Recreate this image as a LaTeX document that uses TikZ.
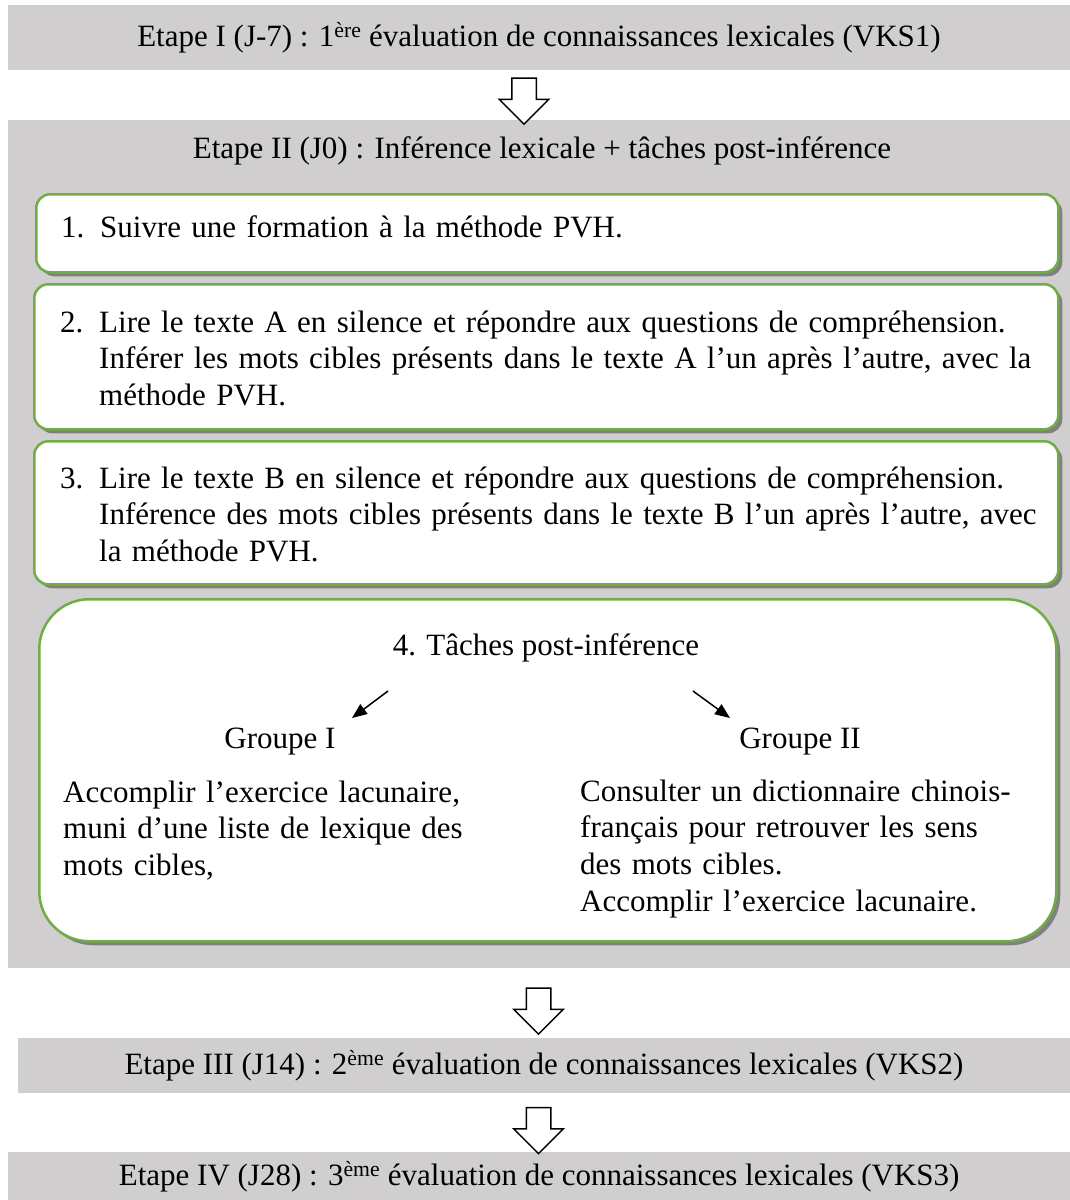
\documentclass[tikz,border=0pt]{standalone}
\usepackage{fontspec}
\setmainfont{Liberation Serif}
\usepackage{xcolor}
\usetikzlibrary{arrows.meta,shapes.arrows,shadows}
\definecolor{etapegris}{RGB}{208,206,206}
\definecolor{vert}{RGB}{112,173,71}
\definecolor{ombre}{RGB}{128,128,128}
\tikzset{
	etape/.style={fill=etapegris, draw=none, inner sep=0pt, minimum width=1062pt},
	tache/.style={draw=vert, line width=2.5pt, fill=white, rounded corners=14pt, anchor=north west,
			drop shadow={shadow xshift=4pt, shadow yshift=-4pt, fill=ombre, opacity=1}},
	texte/.style={inner sep=0pt, align=left, anchor=base west},
	bloc/.style={single arrow, draw=black, line width=1.5pt, fill=white, rotate=-90,
			minimum height=46pt, inner xsep=0pt, inner ysep=11.5pt, single arrow head extend=12.5pt},
	fleche/.style={-{Triangle[length=15pt,width=12pt]}, line width=1.5pt}
}
\newcommand{\numero}[1]{\makebox[39pt][l]{#1}}

\begin{document}
\begin{tikzpicture}[x=1pt, y=-1pt, font=\fontsize{31}{36.7}\selectfont]
	\useasboundingbox (0,0) rectangle (1070,1200);

	% Etape I
	\node[etape, minimum height=65pt] (etape1) at (539,37.5)
		{Etape I (J-7) : 1\textsuperscript{ère} évaluation de connaissances lexicales (VKS1)};

	% Etape II, big box
	\node[etape, minimum height=848pt, anchor=north west] (etape2) at (8,120) {};
	\node[anchor=base, inner sep=0pt] (titre2) at (542,158)
		{Etape II (J0) : Inférence lexicale + tâches post-inférence};

	% Tasks 1 to 3
	\node[tache, minimum width=1022pt, minimum height=78pt] (t1) at (35,193) {};
	\node[texte, text width=990pt] (t1txt) at (61,237)
		{\numero{1.}Suivre une formation à la méthode PVH.};

	\node[tache, minimum width=1024pt, minimum height=145pt] (t2) at (33,283) {};
	\node[texte, text width=1000pt] (t2txt) at (60,332)
		{\numero{2.}Lire le texte A en silence et répondre aux questions de compréhension.\\
		\hspace*{39pt}Inférer les mots cibles présents dans le texte A l’un après l’autre, avec la\\
		\hspace*{39pt}méthode PVH.};

	\node[tache, minimum width=1024pt, minimum height=143pt] (t3) at (33,440) {};
	\node[texte, text width=1000pt] (t3txt) at (60,488)
		{\numero{3.}Lire le texte B en silence et répondre aux questions de compréhension.\\
		\hspace*{39pt}Inférence des mots cibles présents dans le texte B l’un après l’autre, avec\\
		\hspace*{39pt}la méthode PVH.};

	% Task 4 with the two groups
	\node[tache, rounded corners=50pt, minimum width=1017pt, minimum height=342pt] (t4) at (38,598) {};
	\node[anchor=base, inner sep=0pt] (taches) at (546,655) {4. Tâches post-inférence};
	\node[anchor=base, inner sep=0pt] (groupe1) at (280,748) {Groupe I};
	\node[anchor=base, inner sep=0pt] (groupe2) at (800,748) {Groupe II};
	\node[texte, text width=440pt] (g1txt) at (63,802)
		{Accomplir l’exercice lacunaire,\\ muni d’une liste de lexique des\\ mots cibles,};
	\node[texte, text width=470pt] (g2txt) at (580,801)
		{Consulter un dictionnaire chinois-\\ français pour retrouver les sens\\ des mots cibles.\\ Accomplir l’exercice lacunaire.};

	\coordinate (d1) at (388,691);
	\coordinate (f1) at (352,718);
	\coordinate (d2) at (693,691);
	\coordinate (f2) at (730,718);
	\draw[fleche] (d1) -- (f1);
	\draw[fleche] (d2) -- (f2);

	% Etapes III and IV
	\node[etape, minimum height=55pt, minimum width=1052pt] (etape3) at (544,1065.5)
		{Etape III (J14) : 2\textsuperscript{ème} évaluation de connaissances lexicales (VKS2)};
	\node[etape, minimum height=50pt, anchor=north west] (etape4) at (8,1152)
		{Etape IV (J28) : 3\textsuperscript{ème} évaluation de connaissances lexicales (VKS3)};

	% Block arrows
	\node[bloc] (b1) at (524,95) {};
	\node[bloc] (b2) at (538.5,1005) {};
	\node[bloc] (b3) at (538.5,1124.5) {};

\end{tikzpicture}
\end{document}
